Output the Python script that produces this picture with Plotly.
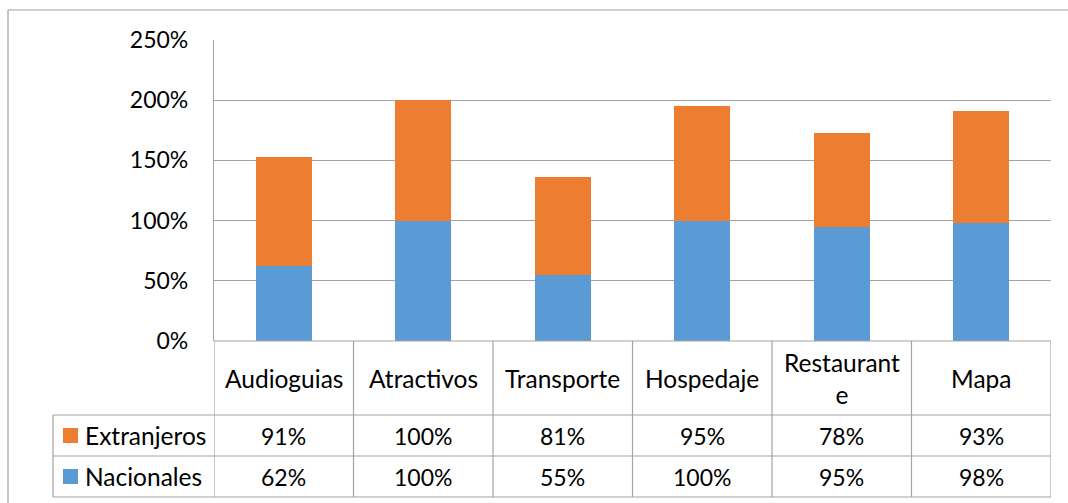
import plotly.graph_objects as go

categories = ["Audioguias", "Atractivos", "Transporte", "Hospedaje", "Restaurante", "Mapa"]
series_names = ["Extranjeros", "Nacionales"]
nacionales = [0.62, 1.00, 0.55, 1.00, 0.95, 0.98]
extranjeros = [0.91, 1.00, 0.81, 0.95, 0.78, 0.93]
y_ticks = [0, 0.5, 1.0, 1.5, 2.0, 2.5]

BLUE = "#5B9BD5"
ORANGE = "#ED7D31"
GRID = "#A3A3A3"
FONT = "Lato"
FS_TICK = 23
FS_LABEL = 24.5
FS_VAL = 23

W, H = 1068, 503

def px_x(x):
    return x / W

def px_y(y):
    return (H - y) / H

x0_px, x1_px = 214, 1051
y_zero_px, y_top_px = 341, 40
row_lines = [341, 415, 456, 497]
legend_left = 53

fig = go.Figure()
fig.add_trace(go.Bar(x=categories, y=nacionales, name="Nacionales",
                     marker=dict(color=BLUE, line=dict(width=0)), width=0.4,
                     showlegend=False, hoverinfo="skip"))
fig.add_trace(go.Bar(x=categories, y=extranjeros, name="Extranjeros",
                     marker=dict(color=ORANGE, line=dict(width=0)), width=0.4,
                     showlegend=False, hoverinfo="skip"))

shapes = []
annotations = []

# outer chart border (top and left)
shapes.append(dict(type="line", xref="paper", yref="paper",
                   x0=px_x(8), x1=1.0, y0=px_y(10), y1=px_y(10),
                   line=dict(color="#A0A0A0", width=1.2)))
shapes.append(dict(type="line", xref="paper", yref="paper",
                   x0=px_x(8), x1=px_x(8), y0=px_y(10), y1=0,
                   line=dict(color="#A0A0A0", width=1.2)))

# table horizontal lines
for i, ry in enumerate(row_lines):
    left = x0_px if i == 0 else legend_left
    shapes.append(dict(type="line", xref="paper", yref="paper",
                       x0=px_x(left), x1=px_x(x1_px), y0=px_y(ry), y1=px_y(ry),
                       line=dict(color=GRID, width=1.2)))
# table vertical lines at category boundaries
for i in range(len(categories) + 1):
    shapes.append(dict(type="line", xref="x", yref="paper",
                       x0=i - 0.5, x1=i - 0.5, y0=px_y(row_lines[0]), y1=px_y(row_lines[-1]),
                       line=dict(color=GRID, width=1.2)))
# legend column left border
shapes.append(dict(type="line", xref="paper", yref="paper",
                   x0=px_x(legend_left), x1=px_x(legend_left),
                   y0=px_y(row_lines[1]), y1=px_y(row_lines[-1]),
                   line=dict(color=GRID, width=1.2)))

# header labels
for i, c in enumerate(categories):
    label = c if len(c) <= 10 else c[:10] + "<br>" + c[10:]
    annotations.append(dict(x=i, xref="x", y=px_y((row_lines[0] + row_lines[1]) / 2),
                            yref="paper", text=label, showarrow=False,
                            xanchor="center", yanchor="middle",
                            font=dict(family=FONT, size=FS_LABEL, color="black")))

# value rows
rows = [(series_names[0], extranjeros, ORANGE), (series_names[1], nacionales, BLUE)]
for r, (name, vals, col) in enumerate(rows):
    yc = (row_lines[r + 1] + row_lines[r + 2]) / 2
    for i, v in enumerate(vals):
        annotations.append(dict(x=i, xref="x", y=px_y(yc), yref="paper",
                                text=f"{round(v * 100)}%", showarrow=False,
                                xanchor="center", yanchor="middle",
                                font=dict(family=FONT, size=FS_VAL, color="black")))
    shapes.append(dict(type="rect", xref="paper", yref="paper",
                       x0=px_x(63), x1=px_x(78), y0=px_y(yc - 7.5), y1=px_y(yc + 7.5),
                       fillcolor=col, line=dict(width=0)))
    annotations.append(dict(x=px_x(83), xref="paper", y=px_y(yc), yref="paper",
                            text=name, showarrow=False, xanchor="left", yanchor="middle",
                            font=dict(family=FONT, size=FS_LABEL, color="black")))

fig.update_layout(
    width=W, height=H,
    margin=dict(l=0, r=0, t=0, b=0, autoexpand=False),
    paper_bgcolor="white", plot_bgcolor="white",
    barmode="stack",
    bargap=0.6,
    xaxis=dict(domain=[px_x(x0_px), px_x(x1_px)], range=[-0.5, len(categories) - 0.5],
               showticklabels=False, showgrid=False, zeroline=False, ticks="",
               showline=False, fixedrange=True, automargin=False),
    yaxis=dict(domain=[px_y(y_zero_px), px_y(y_top_px)], range=[0, 2.5],
               tickvals=y_ticks, tickformat=".0%", showgrid=True, gridcolor=GRID,
               gridwidth=1.2, zeroline=False, showline=True, linecolor=GRID, linewidth=1.2,
               ticks="", ticklabelstandoff=20, automargin=False,
               tickfont=dict(family=FONT, size=FS_TICK, color="black"), fixedrange=True),
    shapes=shapes,
    annotations=annotations,
)

fig.write_html("out.html", post_script="document.body.style.margin='0';",
               config={"displayModeBar": False})
